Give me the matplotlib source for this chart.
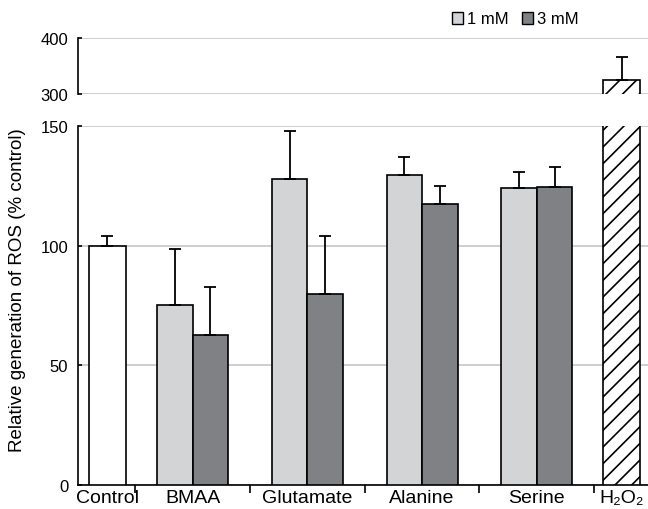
import matplotlib
matplotlib.use("Agg")
import matplotlib.pyplot as plt
from matplotlib.patches import Patch

plt.rcParams['font.family'] = ['Liberation Sans', 'DejaVu Sans']
plt.rcParams['hatch.linewidth'] = 1.2

# ROS generation, % of control (mean and upper SD)
groups = ['BMAA', 'Glutamate', 'Alanine', 'Serine']
conc_labels = ['1 mM', '3 mM']
mean_1mM = [75.3, 128.0, 129.8, 124.0]
sd_1mM = [23.2, 20.0, 7.2, 7.0]
mean_3mM = [62.6, 79.7, 117.4, 124.5]
sd_3mM = [20.0, 24.3, 7.6, 8.3]
control_mean, control_sd = 100.0, 4.0
h2o2_mean, h2o2_sd = 325.0, 41.0
xlabels = ['Control'] + groups + ['H\u2082O\u2082']

# layout along x (category units)
x_control = 0.255
x_groups = [1, 2, 3, 4]
x_h2o2 = 4.74
width = 0.31
light = '#d3d4d6'
dark = '#808184'
grid_c = '#c6c6c6'

fig = plt.figure(figsize=(6.48, 5.1), dpi=100)
ax = fig.add_axes([78 / 648, 1 - 486 / 510, 570 / 648, (486 - 127.3) / 510])
ax_top = fig.add_axes([78 / 648, 1 - 95 / 510, 570 / 648, (95 - 39.3) / 510])

ekw = dict(elinewidth=1.3, capthick=1.3)
for a in (ax, ax_top):
    a.bar(x_control, control_mean, width * 1.04, color='white', edgecolor='black', lw=1.2, zorder=3)
    a.errorbar(x_control, control_mean, yerr=[[0], [control_sd]], fmt='none', ecolor='black',
               capsize=4, zorder=4, **ekw)
    xl = [x - width / 2 for x in x_groups]
    xr = [x + width / 2 for x in x_groups]
    a.bar(xl, mean_1mM, width, color=light, edgecolor='black', lw=1.2, zorder=3)
    a.bar(xr, mean_3mM, width, color=dark, edgecolor='black', lw=1.2, zorder=3)
    a.errorbar(xl, mean_1mM, yerr=[[0] * 4, sd_1mM], fmt='none', ecolor='black', capsize=4, zorder=4, **ekw)
    a.errorbar(xr, mean_3mM, yerr=[[0] * 4, sd_3mM], fmt='none', ecolor='black', capsize=4, zorder=4, **ekw)
    a.bar(x_h2o2, h2o2_mean, width * 1.04, color='white', edgecolor='black', hatch='//', lw=1.2, zorder=3)
    a.errorbar(x_h2o2, h2o2_mean, yerr=[[0], [h2o2_sd]], fmt='none', ecolor='black',
               capsize=4, zorder=4, **ekw)
    a.set_xlim(0, 4.97)
    for s in ('top', 'right'):
        a.spines[s].set_visible(False)
    a.spines['left'].set_linewidth(1.2)
    a.yaxis.grid(True, color=grid_c, lw=1.2, zorder=0)
    a.set_axisbelow(True)
    a.tick_params(axis='y', direction='in', length=3, width=1.2, pad=7, labelsize=12)

ax.set_ylim(0, 150)
ax.set_yticks([0, 50, 100, 150])
ax.spines['bottom'].set_linewidth(1.2)
ax.set_xticks([0.5, 1.5, 2.5, 3.5, 4.5])
ax.set_xticklabels([])
ax.tick_params(axis='x', which='major', direction='out', length=6, width=1.2)
ax.set_xticks([x_control] + x_groups + [x_h2o2], minor=True)
ax.set_xticklabels(xlabels, minor=True, fontsize=14)
ax.tick_params(axis='x', which='minor', length=0, pad=3)

ax_top.set_ylim(300, 400)
ax_top.set_yticks([300, 400])
ax_top.spines['bottom'].set_visible(False)
ax_top.set_xticks([])

fig.text(18 / 648, 1 - 290 / 510, 'Relative generation of ROS (% control)', rotation=90,
         ha='center', va='center', fontsize=13.5)

handles = [Patch(facecolor=light, edgecolor='black', lw=1.0),
           Patch(facecolor=dark, edgecolor='black', lw=1.0)]
fig.legend(handles, conc_labels, loc='center', bbox_to_anchor=(515 / 648, 1 - 20 / 510), ncol=2,
           frameon=False, fontsize=12, handlelength=0.7, handleheight=0.7, handletextpad=0.2,
           columnspacing=0.8, borderpad=0)

fig.savefig('out.png', dpi=100)
